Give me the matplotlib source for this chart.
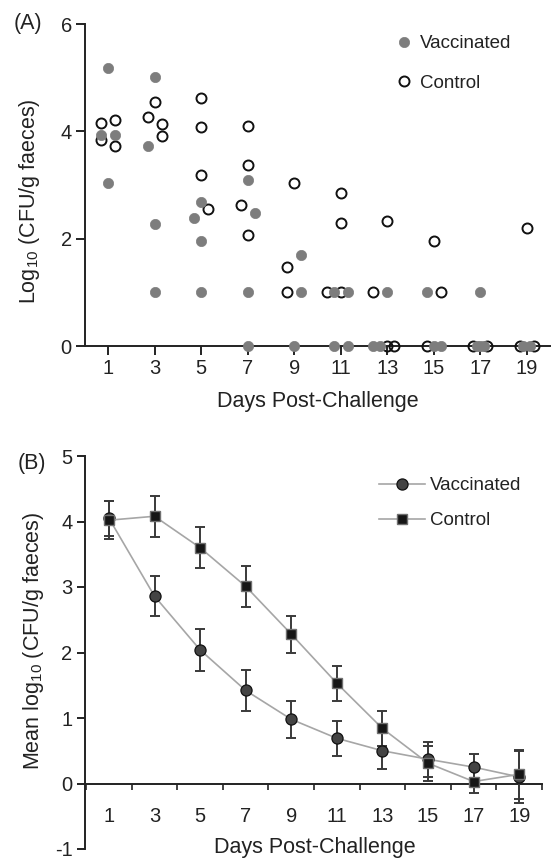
import matplotlib
matplotlib.use('Agg')
import matplotlib.pyplot as plt
from matplotlib.ticker import FixedLocator, NullFormatter

plt.rcParams['font.family'] = ['Liberation Sans', 'DejaVu Sans']
plt.rcParams['mathtext.fontset'] = 'custom'
plt.rcParams['mathtext.rm'] = 'Liberation Sans'
plt.rcParams['mathtext.it'] = 'Liberation Sans:italic'
plt.rcParams['text.color'] = '#222222'
plt.rcParams['axes.labelcolor'] = '#222222'
plt.rcParams['xtick.color'] = '#222222'
plt.rcParams['ytick.color'] = '#222222'

# ---- panel A: individual birds (day, log10 CFU) ----
vac_day = [1, 1, 1, 1, 3, 3, 3, 3, 5, 5, 5, 5, 7, 7, 7, 7, 9, 9, 9,
           11, 11, 11, 11, 13, 13, 13, 15, 15, 15, 17, 17, 17, 17, 19, 19]
vac_val = [5.18, 3.94, 3.94, 3.04, 5.01, 3.72, 2.28, 1.0, 2.68, 2.39, 1.95, 1.0,
           3.10, 2.48, 1.0, 0.0, 1.69, 1.0, 0.0,
           1.0, 1.0, 0.0, 0.0, 1.0, 0.0, 0.0, 1.0, 0.0, 0.0, 1.0, 0.0, 0.0, 0.0, 0.0, 0.0]
ctl_day = [1, 1, 1, 1, 3, 3, 3, 3, 5, 5, 5, 5, 7, 7, 7, 7, 9, 9, 9,
           11, 11, 11, 11, 13, 13, 13, 13, 15, 15, 15, 17, 17, 19, 19, 19]
ctl_val = [4.15, 4.22, 3.83, 3.72, 4.55, 4.27, 4.13, 3.91, 4.62, 4.09, 3.19, 2.55,
           4.10, 3.38, 2.62, 2.07, 3.04, 1.48, 1.0,
           2.85, 2.29, 1.0, 1.0, 2.32, 1.0, 0.0, 0.0, 1.95, 1.0, 0.0, 0.0, 0.0, 2.19, 0.0, 0.0]
# side-by-side slot of each dot (dot-plot dodge, in units of 0.3 day)
vac_slot = [0, -1, 1, 0, 0, -1, 0, 0, 0, -1, 0, 0, 0, 1, 0, 0, 1, 1, 0,
            -1, 1, -1, 1, 0, -2, -1, -1, 0, 1, 0, -0.5, 0, 0.5, -0.5, 0.5]
ctl_slot = [-1, 1, -1, 1, 0, -1, 1, 1, 0, 0, 0, 1, 0, 0, -1, 0, 0, -1, -1,
            0, 0, -2, 0, 0, -2, 0, 1, 0, 1, -1, -1, 1, 0, -1, 1]

# ---- panel B: means +/- error ----
days = [1, 3, 5, 7, 9, 11, 13, 15, 17, 19]
vac_mean = [4.05, 2.86, 2.04, 1.42, 0.98, 0.69, 0.50, 0.37, 0.25, 0.10]
vac_err = [0.27, 0.31, 0.32, 0.31, 0.28, 0.27, 0.28, 0.27, 0.20, 0.40]
ctl_mean = [4.02, 4.08, 3.60, 3.01, 2.28, 1.53, 0.84, 0.31, 0.03, 0.14]
ctl_err = [0.29, 0.31, 0.31, 0.31, 0.28, 0.27, 0.27, 0.27, 0.18, 0.37]

tick_fs = 14.5
lab_fs = 15.5
leg_fs = 13.5

fig = plt.figure(figsize=(5.51, 8.59), dpi=100)
axA = fig.add_axes([85/551, 1-346/859, 465/551, 322/859])
axB = fig.add_axes([85/551, 1-849/859, 457/551, 393/859])

# panel A
dx = 0.3
axA.plot([d + s*dx for d, s in zip(ctl_day, ctl_slot)], ctl_val, 'o', ls='none',
         ms=7.2, mfc='none', mec='#111111', mew=1.4, clip_on=False, zorder=3, label='Control')
axA.plot([d + s*dx for d, s in zip(vac_day, vac_slot)], vac_val, 'o', ls='none',
         ms=7.4, mfc='#7d7d7d', mec='#7d7d7d', mew=0.5, clip_on=False, zorder=4, label='Vaccinated')
axA.set_xlim(0, 20)
axA.set_ylim(0, 6)
axA.set_xticks(days)
axA.set_yticks([0, 2, 4, 6])
for s in ['top', 'right']:
    axA.spines[s].set_visible(False)
for s in ['left', 'bottom']:
    axA.spines[s].set_linewidth(1.4)
    axA.spines[s].set_color('#222222')
axA.tick_params(axis='both', direction='out', length=6.5, width=1.4, labelsize=tick_fs, pad=3)
axA.set_xlabel('Days Post-Challenge', fontsize=lab_fs, labelpad=9)
axA.set_ylabel('Log$_{10}$ (CFU/g faeces)', fontsize=lab_fs)
axA.yaxis.set_label_coords(-0.093, 0.45)
h, l = axA.get_legend_handles_labels()
axA.legend(h[::-1], l[::-1], loc='upper left', bbox_to_anchor=(0.666, 0.965), frameon=False,
           fontsize=leg_fs, handlelength=1.0, handletextpad=0.35, labelspacing=1.2,
           borderpad=0, borderaxespad=0)
fig.text(28/551, 1-24/859, '(A)', fontsize=lab_fs, ha='center', va='center')

# panel B
axB.errorbar(days, vac_mean, yerr=vac_err, fmt='none', ecolor='#3a3a3a', elinewidth=1.4,
             capsize=3.6, capthick=1.4, zorder=3)
axB.errorbar(days, ctl_mean, yerr=ctl_err, fmt='none', ecolor='#3a3a3a', elinewidth=1.4,
             capsize=3.6, capthick=1.4, zorder=3)
axB.plot(days, vac_mean, '-o', color='#a6a6a6', lw=1.2, ms=8, mfc='#444444', mec='#111111',
         mew=0.9, zorder=4, label='Vaccinated')
axB.plot(days, ctl_mean, '-s', color='#a6a6a6', lw=1.2, ms=7.5, mfc='#161616', mec='#707070',
         mew=1.0, zorder=5, label='Control')
axB.set_xlim(-0.05, 20)
axB.set_ylim(-1, 5)
axB.set_yticks([-1, 0, 1, 2, 3, 4, 5])
axB.set_yticklabels(['-1', '0', '1', '2', '3', '4', '5'])
axB.xaxis.set_major_locator(FixedLocator(list(range(0, 21, 2))))
axB.xaxis.set_major_formatter(NullFormatter())
axB.xaxis.set_minor_locator(FixedLocator(days))
axB.set_xticklabels([str(d) for d in days], minor=True)
for s in ['top', 'right']:
    axB.spines[s].set_visible(False)
for s in ['left', 'bottom']:
    axB.spines[s].set_linewidth(1.4)
    axB.spines[s].set_color('#222222')
axB.spines['bottom'].set_position(('data', 0))
axB.tick_params(axis='y', direction='out', length=6, width=1.4, labelsize=tick_fs, pad=3)
axB.tick_params(axis='x', which='major', direction='out', length=4, width=1.2)
axB.tick_params(axis='x', which='minor', length=0, labelsize=tick_fs, pad=17)
axB.set_xlabel('Days Post-Challenge', fontsize=lab_fs)
axB.xaxis.set_label_coords(0.503, 0.03)
axB.set_ylabel('Mean log$_{10}$ (CFU/g faeces)', fontsize=lab_fs)
axB.yaxis.set_label_coords(-0.085, 0.53)
axB.legend(loc='upper left', bbox_to_anchor=(0.643, 0.946), frameon=False,
           fontsize=leg_fs, handlelength=2.45, handletextpad=0.27, labelspacing=0.95,
           borderpad=0, borderaxespad=0)
fig.text(32/551, 1-463/859, '(B)', fontsize=lab_fs, ha='center', va='center')

fig.savefig('out.png', dpi=100)
